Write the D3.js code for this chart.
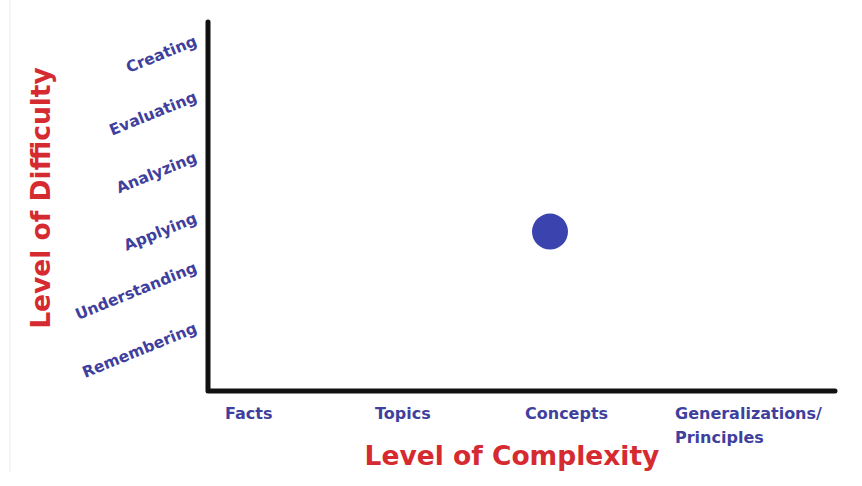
<!DOCTYPE html>
<html>
<head>
<meta charset="utf-8">
<script src="https://cdn.jsdelivr.net/npm/d3@7/dist/d3.min.js"></script>
<style>
  html, body { margin: 0; padding: 0; background: #ffffff; }
  svg { display: block; }
</style>
</head>
<body>
<svg id="chart" width="862" height="486"></svg>
<script>
// ---- data ----
const complexityLevels = ["Facts", "Topics", "Concepts", "Generalizations/\nPrinciples"];
const difficultyLevels = ["Remembering", "Understanding", "Applying", "Analyzing", "Evaluating", "Creating"];
const points = [{ complexity: "Concepts", difficulty: "Applying" }];
const xTitle = "Level of Complexity";
const yTitle = "Level of Difficulty";

// ---- layout ----
const axisX = 208, axisY = 391, axisTop = 22, axisRight = 835;
const labelColor = "#3f3f9e";
const titleColor = "#d62a31";
const font = "'DejaVu Sans', Verdana, sans-serif";

const svg = d3.select("#chart");

// faint frame line at the left like the reference
svg.append("line")
  .attr("x1", 10).attr("x2", 10).attr("y1", 0).attr("y2", 472)
  .attr("stroke", "#ececec").attr("stroke-width", 1);

const x = d3.scalePoint().domain(complexityLevels).range([250, 700]);
const y = d3.scalePoint().domain(difficultyLevels).range([350, 54]);

// axes lines
svg.append("path")
  .attr("d", `M${axisX},${axisTop} L${axisX},${axisY} L${axisRight},${axisY}`)
  .attr("fill", "none")
  .attr("stroke", "#111")
  .attr("stroke-width", 5)
  .attr("stroke-linejoin", "round")
  .attr("stroke-linecap", "round");

// x tick labels (left-aligned blocks)
const xl = svg.append("g").selectAll("text")
  .data(complexityLevels).join("text")
  .attr("x", d => x(d) - 25)
  .attr("y", 419)
  .attr("font-family", font)
  .attr("font-weight", "bold")
  .attr("font-size", 16)
  .attr("fill", labelColor);
xl.each(function(d) {
  const lines = d.split("\n");
  const t = d3.select(this);
  lines.forEach((ln, i) => {
    t.append("tspan")
      .attr("x", x(d) - 25)
      .attr("dy", i === 0 ? 0 : 24)
      .text(ln);
  });
});

// y tick labels (rotated, right ends aligned near the axis)
const angle = 22;
const rad = angle * Math.PI / 180;
const yl = svg.append("g").selectAll("text")
  .data(difficultyLevels).join("text")
  .attr("font-family", font)
  .attr("font-weight", "bold")
  .attr("font-size", 15.5)
  .attr("fill", labelColor)
  .attr("text-anchor", "end")
  .attr("dy", "0.35em")
  .text(d => d);
yl.each(function(d) {
  const L = this.getComputedTextLength();
  const ex = 196;
  const ey = y(d) - (L / 2) * Math.sin(rad);
  d3.select(this).attr("transform", `translate(${ex},${ey}) rotate(${-angle})`);
});

// point(s)
svg.append("g").selectAll("circle")
  .data(points).join("circle")
  .attr("cx", d => x(d.complexity))
  .attr("cy", d => y(d.difficulty))
  .attr("r", 18)
  .attr("fill", "#3b43ae");

// axis titles
svg.append("text")
  .attr("x", 512).attr("y", 465)
  .attr("text-anchor", "middle")
  .attr("font-family", font)
  .attr("font-weight", "bold")
  .attr("font-size", 26.5)
  .attr("fill", titleColor)
  .text(xTitle);

svg.append("text")
  .attr("transform", "translate(50,198) rotate(-90)")
  .attr("text-anchor", "middle")
  .attr("font-family", font)
  .attr("font-weight", "bold")
  .attr("font-size", 26.5)
  .attr("fill", titleColor)
  .text(yTitle);
</script>
</body>
</html>
